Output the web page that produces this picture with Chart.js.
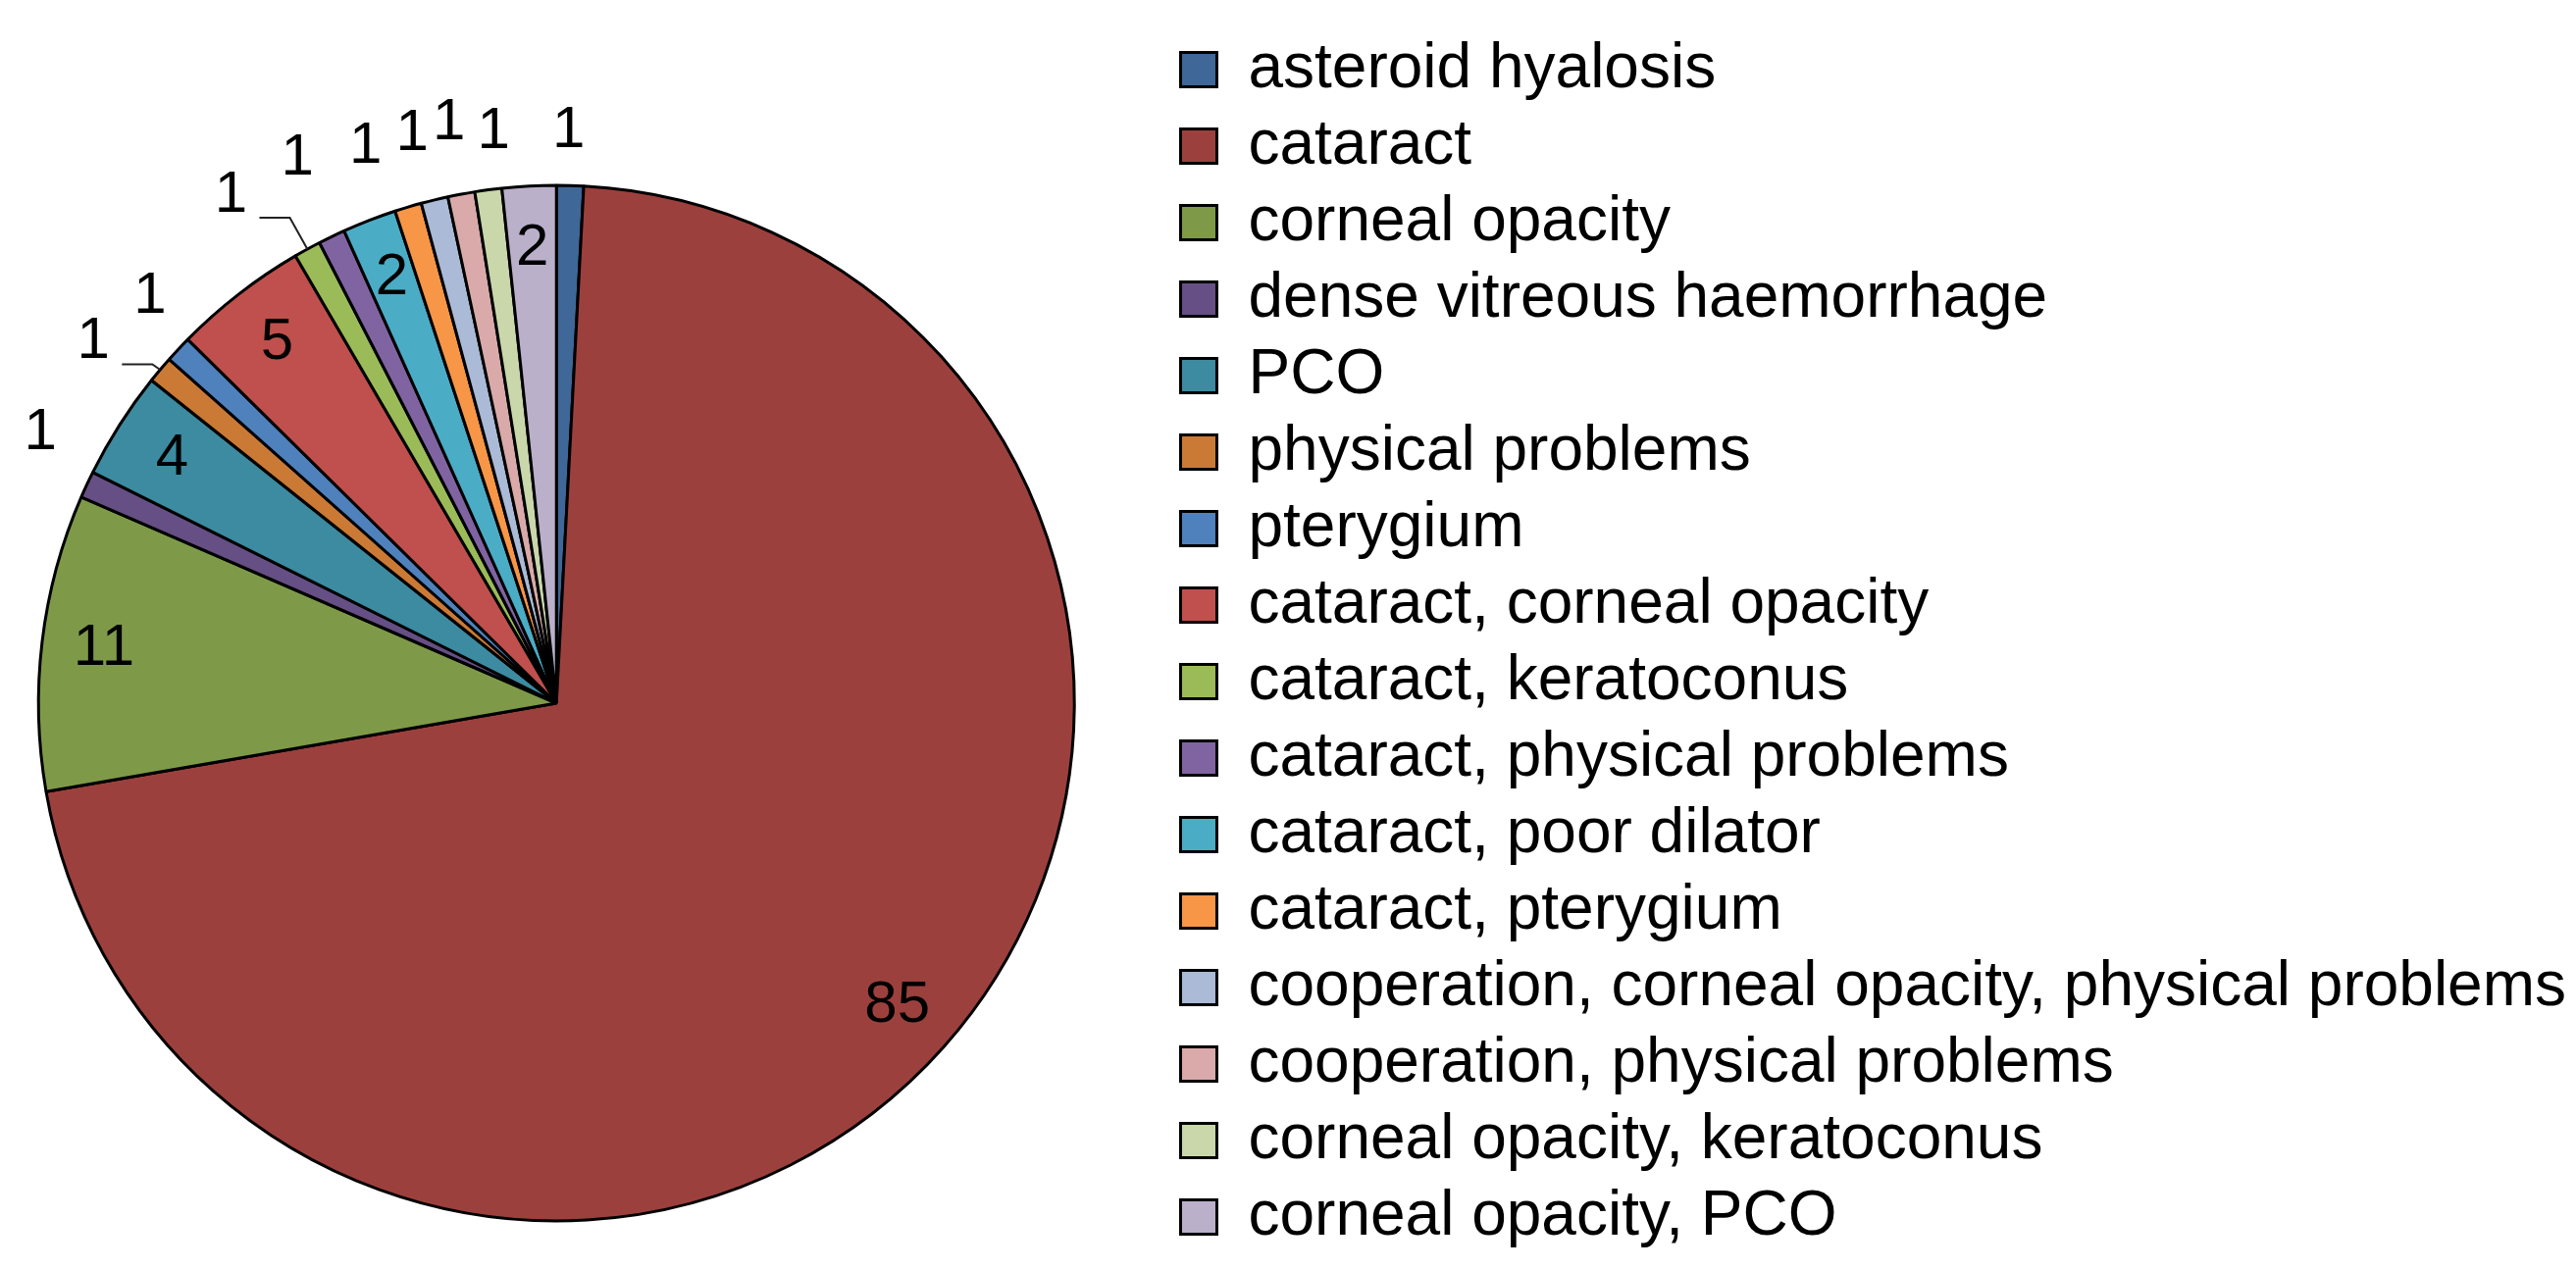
<!DOCTYPE html>
<html>
<head>
<meta charset="utf-8">
<script src="https://cdn.jsdelivr.net/npm/chart.js@4.4.1/dist/chart.umd.min.js"></script>
<style>
    html, body { margin: 0; padding: 0; background: #fff; overflow: hidden; }
    #wrap { position: absolute; left: -55px; top: 0; width: 2681px; height: 1409px; }
</style>
</head>
<body>
<div id="wrap"><canvas id="pieChart"></canvas></div>
<script>
        // Data
        const reasons = [
            'asteroid hyalosis',
            'cataract',
            'corneal opacity',
            'dense vitreous haemorrhage',
            'PCO',
            'physical problems',
            'pterygium',
            'cataract, corneal opacity',
            'cataract, keratoconus',
            'cataract, physical problems',
            'cataract, poor dilator',
            'cataract, pterygium',
            'cooperation, corneal opacity, physical problems',
            'cooperation, physical problems',
            'corneal opacity, keratoconus',
            'corneal opacity, PCO'
        ];
        const counts = [1, 85, 11, 1, 4, 1, 1, 5, 1, 1, 2, 1, 1, 1, 1, 2];

        const sliceColors = [
            '#3F6797', '#9C403E', '#7E9A48', '#664F84', '#3C8BA1', '#CB7A36',
            '#4F81BD', '#C0504D', '#9BBB59', '#8064A2', '#4BACC6', '#F79646',
            '#AABAD7', '#D9AAA9', '#C9D7AB', '#BAB0CA'
        ];

        // Outside labels are pushed apart a little so they don't overlap:
        // slice index -> [angle shift in degrees, distance as share of the radius]
        const outsideNudge = {
            0: [-0.3, 1.106],
            3: [2.7, 1.125],
            5: [-2.1, 1.134],
            6: [1.9, 1.11],
            8: [-3.9, 1.165],
            9: [0.3, 1.165],
            11: [-2.3, 1.136],
            12: [-0.6, 1.134],
            13: [0.1, 1.14],
            14: [1.3, 1.11]
        };
        // Slices whose outside label gets a small leader line
        const withLeader = [5, 8];

        // Plugin that writes the value of each slice (inside big ones, outside the 1s)
        const sliceLabels = {
            id: 'sliceLabels',
            afterDatasetsDraw(chart) {
                const ctx = chart.ctx;
                const arcs = chart.getDatasetMeta(0).data;
                ctx.save();
                ctx.font = '60px "Liberation Sans", Arial, sans-serif';
                ctx.fillStyle = '#000';
                ctx.textAlign = 'center';
                ctx.textBaseline = 'middle';
                arcs.forEach((arc, i) => {
                    const p = arc.getProps(['x', 'y', 'startAngle', 'endAngle', 'outerRadius'], true);
                    const mid = (p.startAngle + p.endAngle) / 2;
                    let ang = mid;
                    let r = p.outerRadius * 0.88;
                    if (counts[i] === 1) {
                        const n = outsideNudge[i] || [0, 1.13];
                        ang = mid + n[0] * Math.PI / 180;
                        r = p.outerRadius * n[1];
                    }
                    const lx = p.x + Math.cos(ang) * r;
                    const ly = p.y + Math.sin(ang) * r;
                    ctx.fillText(String(counts[i]), lx, ly);

                    if (withLeader.includes(i)) {
                        const ex = p.x + Math.cos(mid) * p.outerRadius;
                        const ey = p.y + Math.sin(mid) * p.outerRadius;
                        ctx.beginPath();
                        ctx.strokeStyle = '#222';
                        ctx.lineWidth = 2;
                        ctx.moveTo(lx + 29, ly + 23);
                        ctx.lineTo(lx + 60, ly + 23);
                        ctx.lineTo(ex, ey);
                        ctx.stroke();
                    }
                });
                ctx.restore();
            }
        };

        const pieCtx = document.getElementById('pieChart').getContext('2d');
        const pieChart = new Chart(pieCtx, {
            type: 'pie',
            data: {
                labels: reasons,
                datasets: [{
                    data: counts,
                    backgroundColor: sliceColors,
                    borderColor: '#000',
                    borderWidth: 3
                }]
            },
            options: {
                responsive: true,
                maintainAspectRatio: false,
                animation: false,
                devicePixelRatio: 1,
                radius: 528,
                layout: {
                    padding: { top: 25, left: 0, right: 0, bottom: 0 }
                },
                plugins: {
                    tooltip: { enabled: false },
                    legend: {
                        position: 'right',
                        align: 'start',
                        maxWidth: 2000,
                        labels: {
                            color: '#000',
                            boxWidth: 37,
                            boxHeight: 35,
                            padding: 14,
                            font: { family: '"Liberation Sans", Arial, sans-serif', size: 64 }
                        }
                    }
                }
            },
            plugins: [sliceLabels]
        });
</script>
</body>
</html>
